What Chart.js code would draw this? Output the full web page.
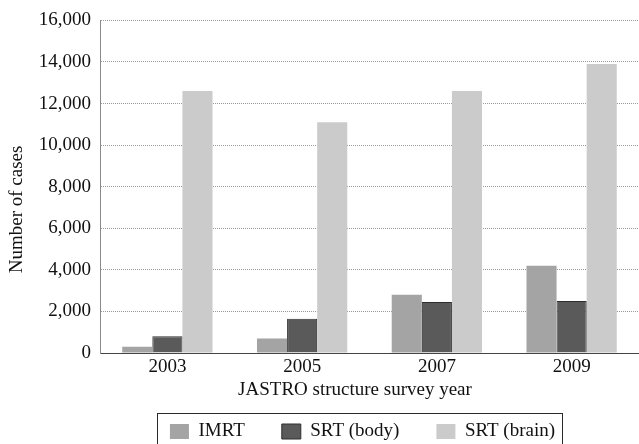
<!DOCTYPE html>
<html lang="en">
<head>
    <meta charset="UTF-8">
    <title>JASTRO structure survey</title>
    <script src="https://cdn.jsdelivr.net/npm/chart.js"></script>
    <style>
        html, body { margin: 0; padding: 0; background: #fff; overflow: hidden; }
        #wrap { width: 639px; height: 444px; }
    </style>
</head>
<body>
    <div id="wrap">
        <canvas id="surveyChart" width="639" height="444"></canvas>
    </div>

<script>
const years = ['2003', '2005', '2007', '2009'];
const imrt = [300, 700, 2800, 4200];
const srtBody = [800, 1650, 2450, 2500];
const srtBrain = [12600, 11100, 12600, 13900];
const yTicks = [0, 2000, 4000, 6000, 8000, 10000, 12000, 14000, 16000];

const xTitle = 'JASTRO structure survey year';
const yTitle = 'Number of cases';

const serif = "'Liberation Serif', 'Times New Roman', serif";
const fontSize = 19;

// axis titles sit a bit off the plot centre in the original, so draw them here
// and put a box around the legend using the legend's own hitboxes
const extras = {
    id: 'extras',
    afterLayout(chart) {
        // legend is centred a little left of the plot area
        chart.legend.left -= 7;
        chart.legend.right -= 7;
    },
    afterDraw(chart) {
        const ctx = chart.ctx;
        const area = chart.chartArea;
        ctx.save();
        ctx.fillStyle = '#111';
        ctx.font = fontSize + 'px ' + serif;
        ctx.textAlign = 'center';
        ctx.textBaseline = 'middle';
        ctx.fillText(xTitle, area.left + 255, area.bottom + 37);

        ctx.translate(17, area.top + 189);
        ctx.rotate(-Math.PI / 2);
        ctx.fillText(yTitle, 0, 0);
        ctx.restore();

        const boxes = chart.legend.legendHitBoxes;
        if (!boxes || !boxes.length) return;
        const first = boxes[0];
        const last = boxes[boxes.length - 1];
        ctx.save();
        ctx.strokeStyle = '#2a2a2a';
        ctx.lineWidth = 1;
        ctx.strokeRect(Math.round(first.left - 13) + 0.5, Math.round(first.top - 9) + 0.5,
            Math.round(last.left + last.width - first.left + 20), 50);
        ctx.restore();
    }
};

const ctx = document.getElementById('surveyChart').getContext('2d');
new Chart(ctx, {
    type: 'bar',
    data: {
        labels: years,
        datasets: [
            { label: 'IMRT', data: imrt, backgroundColor: '#a4a4a4', borderWidth: 0 },
            { label: 'SRT (body)', data: srtBody, backgroundColor: '#5a5a5a', borderColor: '#2e2e2e', borderWidth: 1 },
            { label: 'SRT (brain)', data: srtBrain, backgroundColor: '#cbcbcb', borderWidth: 0 }
        ]
    },
    options: {
        responsive: false,
        animation: false,
        layout: { padding: { top: 18, right: 0, bottom: -7, left: 0 } },
        datasets: {
            bar: { categoryPercentage: 0.67, barPercentage: 1.0 }
        },
        scales: {
            x: {
                grid: { display: false, drawTicks: false },
                border: { display: true, color: '#444' },
                ticks: { color: '#111', font: { family: serif, size: fontSize }, padding: 3 },
                afterFit(scale) { scale.height = 32; }
            },
            y: {
                min: 0,
                max: 16000,
                afterBuildTicks(scale) { scale.ticks = yTicks.map(v => ({ value: v })); },
                grid: { color: '#9a9a9a', drawTicks: false },
                border: { display: true, color: '#8a8a8a', dash: [1, 1] },
                ticks: {
                    color: '#111',
                    font: { family: serif, size: fontSize },
                    padding: 9,
                    callback: v => v.toLocaleString('en-US')
                },
                afterFit(scale) { scale.width = 100; }
            }
        },
        plugins: {
            legend: {
                position: 'bottom',
                fullSize: false,
                labels: {
                    color: '#111',
                    font: { family: serif, size: fontSize },
                    boxWidth: 19,
                    boxHeight: 15,
                    padding: 37
                }
            },
            tooltip: { enabled: false }
        }
    },
    plugins: [extras]
});
</script>
</body>
</html>
